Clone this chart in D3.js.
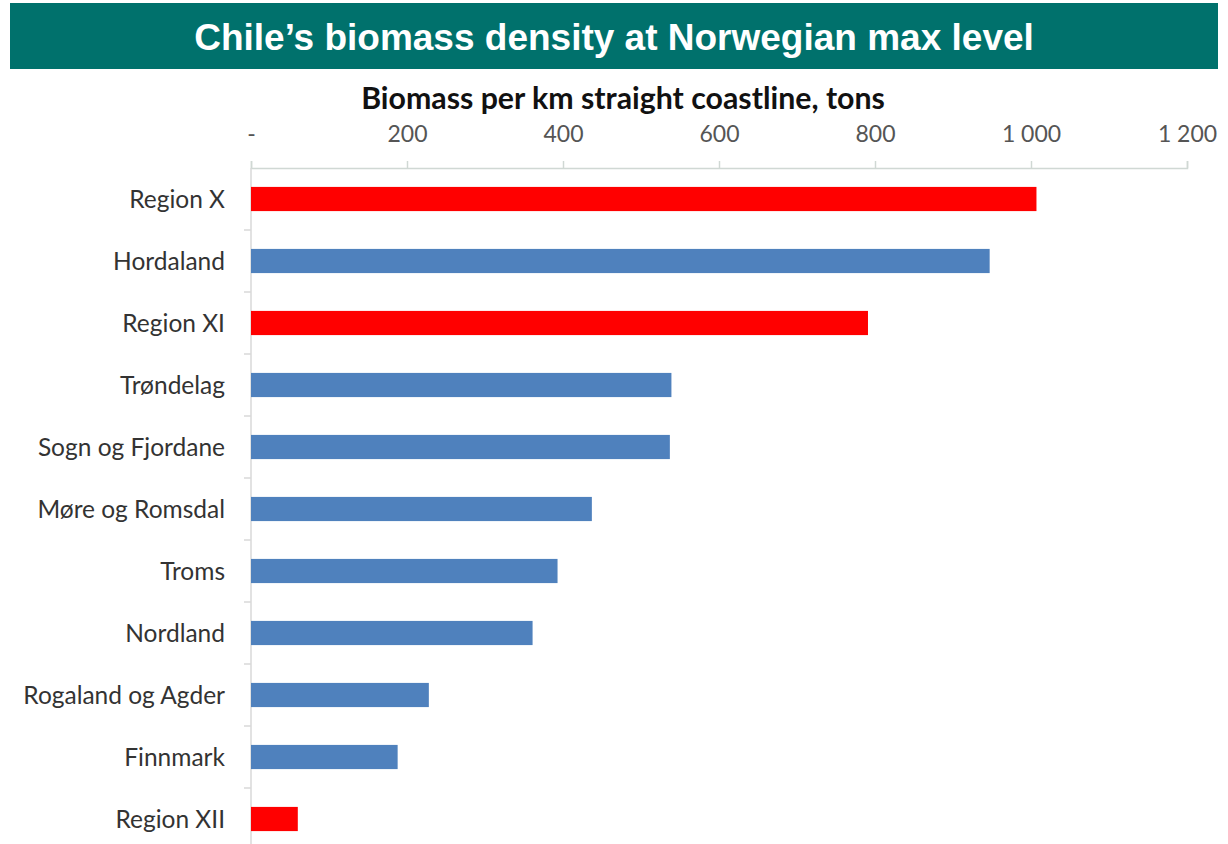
<!DOCTYPE html>
<html><head><meta charset="utf-8">
<script src="https://cdn.jsdelivr.net/npm/d3@7"></script>
<style>body{margin:0;background:#fff}svg{display:block}</style>
</head><body>
<svg id="c" width="1228" height="844"></svg>
<script>
const categories = ["Region X","Hordaland","Region XI","Trøndelag","Sogn og Fjordane","Møre og Romsdal","Troms","Nordland","Rogaland og Agder","Finnmark","Region XII"];
const values = [1007,947,791,539,537,437,393,361,228,188,60];
const isChile = [true,false,true,false,false,false,false,false,false,false,true];
const tickValues = [0,200,400,600,800,1000,1200];
const tickLabels = ["-","200","400","600","800","1 000","1 200"];
const title = "Chile’s biomass density at Norwegian max level";
const axisTitle = "Biomass per km straight coastline, tons";

const svg = d3.select("#c");
svg.append("rect").attr("x",10).attr("y",3).attr("width",1208).attr("height",66).attr("fill","#00716C");
svg.append("text").attr("x",614).attr("y",50).attr("text-anchor","middle")
  .attr("font-family","Liberation Sans, Arial, sans-serif").attr("font-weight","bold")
  .attr("font-size",37).attr("fill","#fff").text(title);

const x = d3.scaleLinear().domain([0,1200]).range([251,1187]);
const y = d3.scaleBand().domain(categories).range([168,168+62*11]).paddingInner(0.61).paddingOuter(0.305);

svg.append("text").attr("x",623).attr("y",109).attr("text-anchor","middle")
  .attr("font-family","Lato, sans-serif").attr("font-weight","bold").attr("font-size",30.3)
  .attr("fill","#111").text(axisTitle);

const xAxis = d3.axisTop(x).tickValues(tickValues).tickFormat((d,i)=>tickLabels[i]).tickSize(7).tickSizeOuter(7).tickPadding(19);
const gx = svg.append("g").attr("transform","translate(0,168)").call(xAxis);
gx.selectAll("path,line").attr("stroke","#d0d8d4").attr("stroke-width",1.5);
gx.selectAll("text").attr("font-family","Lato, sans-serif").attr("font-size",23).attr("fill","#555");

// left axis line with boundary ticks
const yAxisG = svg.append("g");
yAxisG.append("line").attr("x1",251).attr("x2",251).attr("y1",168).attr("y2",844).attr("stroke","#d9d9d9").attr("stroke-width",1.5);
const step = y.step();
yAxisG.selectAll("line.tk").data(categories.slice(1)).join("line").attr("class","tk")
  .attr("x1",244).attr("x2",251)
  .attr("y1",d=>y(d)-y.paddingInner()*step/2).attr("y2",d=>y(d)-y.paddingInner()*step/2)
  .attr("stroke","#d9d9d9").attr("stroke-width",1.5);

svg.selectAll("text.cat").data(categories).join("text").attr("class","cat")
  .attr("x",225).attr("y",d=>y(d)+y.bandwidth()/2).attr("dy","0.35em").attr("text-anchor","end")
  .attr("font-family","Lato, sans-serif").attr("font-size",24.5).attr("fill","#333").text(d=>d);

svg.selectAll("rect.bar").data(values).join("rect").attr("class","bar")
  .attr("x",x(0)).attr("y",(d,i)=>y(categories[i])).attr("height",y.bandwidth())
  .attr("width",d=>x(d)-x(0)).attr("fill",(d,i)=>isChile[i]?"#FF0000":"#4F81BD");
</script>
</body></html>
